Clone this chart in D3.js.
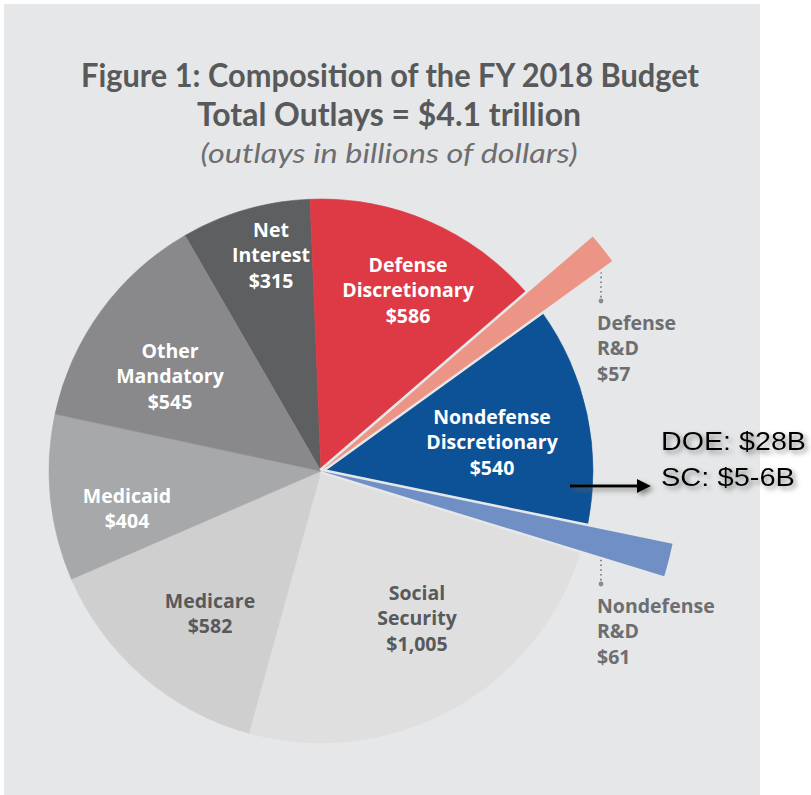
<!DOCTYPE html>
<html>
<head>
<meta charset="utf-8">
<script src="https://cdn.jsdelivr.net/npm/d3@7"></script>
<style>
  html, body { margin: 0; padding: 0; background: #ffffff; }
  svg { display: block; }
</style>
</head>
<body>
<svg id="chart" width="811" height="795"></svg>
<script>
// ---------------- data ----------------
const categories = ["Net Interest", "Defense Discretionary", "Defense R&D", "Nondefense Discretionary",
                    "Nondefense R&D", "Social Security", "Medicare", "Medicaid", "Other Mandatory"];
const values = [315, 586, 57, 540, 61, 1005, 582, 404, 545];
const labelLines = [
  ["Net", "Interest", "$315"],
  ["Defense", "Discretionary", "$586"],
  ["Defense", "R&D", "$57"],
  ["Nondefense", "Discretionary", "$540"],
  ["Nondefense", "R&D", "$61"],
  ["Social", "Security", "$1,005"],
  ["Medicare", "$582"],
  ["Medicaid", "$404"],
  ["Other", "Mandatory", "$545"]
];
const exploded = [false, false, true, false, true, false, false, false, false];
const titleLines = ["Figure 1: Composition of the FY 2018 Budget", "Total Outlays = $4.1 trillion"];
const subtitle = "(outlays in billions of dollars)";
const annotationLines = ["DOE: $28B", "SC: $5-6B"];

// ---------------- styles / layout ----------------
const W = 811, H = 795;
const bg = "#e6e7e8";
const colors = ["#5e5f61", "#de3a45", "#ec9586", "#0d5296", "#6f8fc5", "#dfdfe0", "#cfcfd0", "#a7a8a9", "#89898b"];
const textColors = ["#fff", "#fff", "#6d6e71", "#fff", "#6d6e71", "#58595b", "#58595b", "#fff", "#fff"];
const cx = 321, cy = 471;
const R = 272, Rx = 359;
const startDeg = -30;
// label anchor: [x, first baseline, anchor]
const labelPos = [
  [271, 237, "middle"],
  [408, 272, "middle"],
  [597, 330, "start"],
  [492, 424, "middle"],
  [597, 613, "start"],
  [417, 600, "middle"],
  [210, 608, "middle"],
  [127, 503, "middle"],
  [170, 358, "middle"]
];
const leaderX = 601;
const leaderEnd = { 2: 301, 4: 584 };
const lineH = 25.3;

const svg = d3.select("#chart");

// panel
svg.append("rect").attr("x", 4).attr("y", 4).attr("width", 756).attr("height", 791).attr("fill", bg);

// defs: shadow for annotation
const defs = svg.append("defs");
const f = defs.append("filter").attr("id", "shadow").attr("filterUnits", "userSpaceOnUse")
  .attr("x", 540).attr("y", 400).attr("width", 271).attr("height", 120);
f.append("feDropShadow").attr("dx", 3).attr("dy", 3).attr("stdDeviation", 2.4).attr("flood-color", "#5f5f5f").attr("flood-opacity", 0.7);

// title
const titleFont = "Lato, 'Open Sans', sans-serif";
svg.append("text").attr("x", 390).attr("y", 87).attr("text-anchor", "middle")
  .attr("font-family", titleFont).attr("font-weight", 700).attr("font-size", 31.5)
  .attr("fill", "#58595b").attr("textLength", 618).attr("lengthAdjust", "spacingAndGlyphs")
  .text(titleLines[0]);
svg.append("text").attr("x", 389).attr("y", 125.5).attr("text-anchor", "middle")
  .attr("font-family", titleFont).attr("font-weight", 700).attr("font-size", 31.5)
  .attr("fill", "#58595b").attr("textLength", 384).attr("lengthAdjust", "spacingAndGlyphs")
  .text(titleLines[1]);
svg.append("text").attr("x", 389).attr("y", 163).attr("text-anchor", "middle")
  .attr("font-family", titleFont).attr("font-style", "italic").attr("font-weight", 400).attr("font-size", 27)
  .attr("fill", "#6d6e71").attr("textLength", 377).attr("lengthAdjust", "spacingAndGlyphs")
  .text(subtitle);

// pie
const data = categories.map((c, i) => ({ name: c, value: values[i], i }));
const pie = d3.pie().sort(null).value(d => d.value)
  .startAngle(startDeg * Math.PI / 180).endAngle(startDeg * Math.PI / 180 + 2 * Math.PI);
const arcs = pie(data);
const arcMain = d3.arc().innerRadius(0).outerRadius(R);
const arcExp = d3.arc().innerRadius(0).outerRadius(Rx);

const g = svg.append("g").attr("transform", `translate(${cx},${cy})`);
g.selectAll("path.main").data(arcs.filter(a => !exploded[a.data.i])).join("path")
  .attr("class", "main")
  .attr("d", arcMain)
  .attr("fill", a => colors[a.data.i])
  .attr("stroke", a => colors[a.data.i]).attr("stroke-width", 0.6);
g.selectAll("path.exp").data(arcs.filter(a => exploded[a.data.i])).join("path")
  .attr("class", "exp")
  .attr("d", arcExp)
  .attr("fill", a => colors[a.data.i])
  .attr("stroke", bg).attr("stroke-width", 5).attr("stroke-linejoin", "miter")
  .attr("paint-order", "stroke");

// leaders: start just below the exploded wedge at leaderX
arcs.filter(a => exploded[a.data.i]).forEach(a => {
  const dx = leaderX - cx;
  const yEdge = cy - dx / Math.tan(a.endAngle);
  const y0 = Math.min(yEdge + 5, leaderEnd[a.data.i] - 34);
  const y1 = leaderEnd[a.data.i];
  svg.append("line").attr("x1", leaderX).attr("x2", leaderX).attr("y1", y0).attr("y2", y1 - 3)
    .attr("stroke", "#8a8b8d").attr("stroke-width", 2).attr("stroke-dasharray", "1.6 3.2");
  svg.append("circle").attr("cx", leaderX).attr("cy", y1).attr("r", 2.4).attr("fill", "#8a8b8d");
});

// re-draw exploded wedges on top of leader starts
g.selectAll("path.exp").raise();
g.raise();

// labels
const labFont = "'Open Sans', Lato, sans-serif";
labelLines.forEach((lines, i) => {
  const [x, y, anchor] = labelPos[i];
  const t = svg.append("text").attr("text-anchor", anchor)
    .attr("font-family", labFont).attr("font-weight", 700).attr("font-size", 19.5)
    .attr("fill", textColors[i]);
  lines.forEach((ln, j) => {
    t.append("tspan").attr("x", x).attr("y", y + j * lineH).text(ln);
  });
});

// annotation arrow and text
const ann = svg.append("g").attr("filter", "url(#shadow)");
ann.append("path").attr("d", "M570,484.5 L637,484.5 L637,479 L651,486 L637,493 L637,487.5 L570,487.5 Z").attr("fill", "#000");
const at = ann.append("text").attr("font-family", "'Liberation Sans', Arial, sans-serif")
  .attr("font-size", 26.5).attr("fill", "#000");
at.append("tspan").attr("x", 661).attr("y", 450).attr("textLength", 145).attr("lengthAdjust", "spacingAndGlyphs").text(annotationLines[0]);
at.append("tspan").attr("x", 661).attr("y", 485.5).attr("textLength", 134).attr("lengthAdjust", "spacingAndGlyphs").text(annotationLines[1]);
</script>
</body>
</html>
